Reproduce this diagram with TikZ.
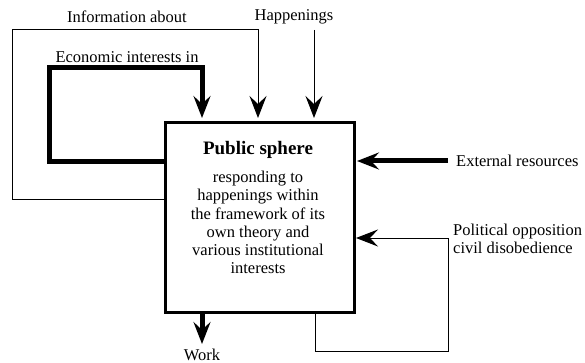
\documentclass[tikz,border=0pt]{standalone}
\usepackage{fontspec}
\setmainfont{Liberation Serif}
\usetikzlibrary{arrows.meta}
\begin{document}
\begin{tikzpicture}[x=1pt,y=-1pt,
  font=\fontsize{16.5}{18.2}\selectfont,
  thin line/.style={line width=1pt},
  thick line/.style={line width=5pt, line join=miter},
  tip/.style={-{Stealth[length=22pt,width=17pt,inset=8pt]}},
  lbl/.style={inner sep=0pt}]
\useasboundingbox (0,0) rectangle (585,363);
\node[draw, line width=2.6pt, minimum width=189pt, minimum height=190pt, inner sep=0pt, anchor=north west] (ps) at (164,121) {};
\node[lbl, font=\fontsize{19}{21}\selectfont\bfseries] (title) at (258,150) {Public sphere};
\node[lbl, align=center] (body) at (258,222.5) {responding to\\happenings within\\the framework of its\\own theory and\\various institutional\\interests};
\node[lbl] (info) at (127,17) {Information about};
\node[lbl] (hap) at (294,17) {Happenings};
\node[lbl] (econ) at (127,57) {Economic interests in};
\node[lbl, anchor=west] (ext) at (456,161) {External resources};
\node[lbl, anchor=west, align=left] (pol) at (453,239) {Political opposition\\civil disobedience};
\node[lbl] (work) at (202,355) {Work};
% coordinates
\coordinate (i1) at (164,199);
\coordinate (i2) at (12,199);
\coordinate (i3) at (12,30);
\coordinate (i4) at (258,30);
\coordinate (i5) at (258,118);
\coordinate (e1) at (164,162);
\coordinate (e2) at (49,162);
\coordinate (e3) at (49,68);
\coordinate (e4) at (202,68);
\coordinate (e5) at (202,118);
\coordinate (h1) at (314,30);
\coordinate (h2) at (314,118);
\coordinate (x1) at (448,161);
\coordinate (x2) at (357,161);
\coordinate (p1) at (315,311);
\coordinate (p2) at (315,351);
\coordinate (p3) at (448,351);
\coordinate (p4) at (448,238);
\coordinate (p5) at (356,238);
\coordinate (w1) at (202,312);
\coordinate (w2) at (202,344);
% connectors
\draw[thin line, tip] (i1) -- (i2) -- (i3) -- (i4) -- (i5);
\draw[thick line, tip] (e1) -- (e2) -- (e3) -- (e4) -- (e5);
\draw[thin line, tip] (h1) -- (h2);
\draw[thick line, tip] (x1) -- (x2);
\draw[thin line, tip] (p1) -- (p2) -- (p3) -- (p4) -- (p5);
\draw[thick line, tip] (w1) -- (w2);
\end{tikzpicture}
\end{document}
